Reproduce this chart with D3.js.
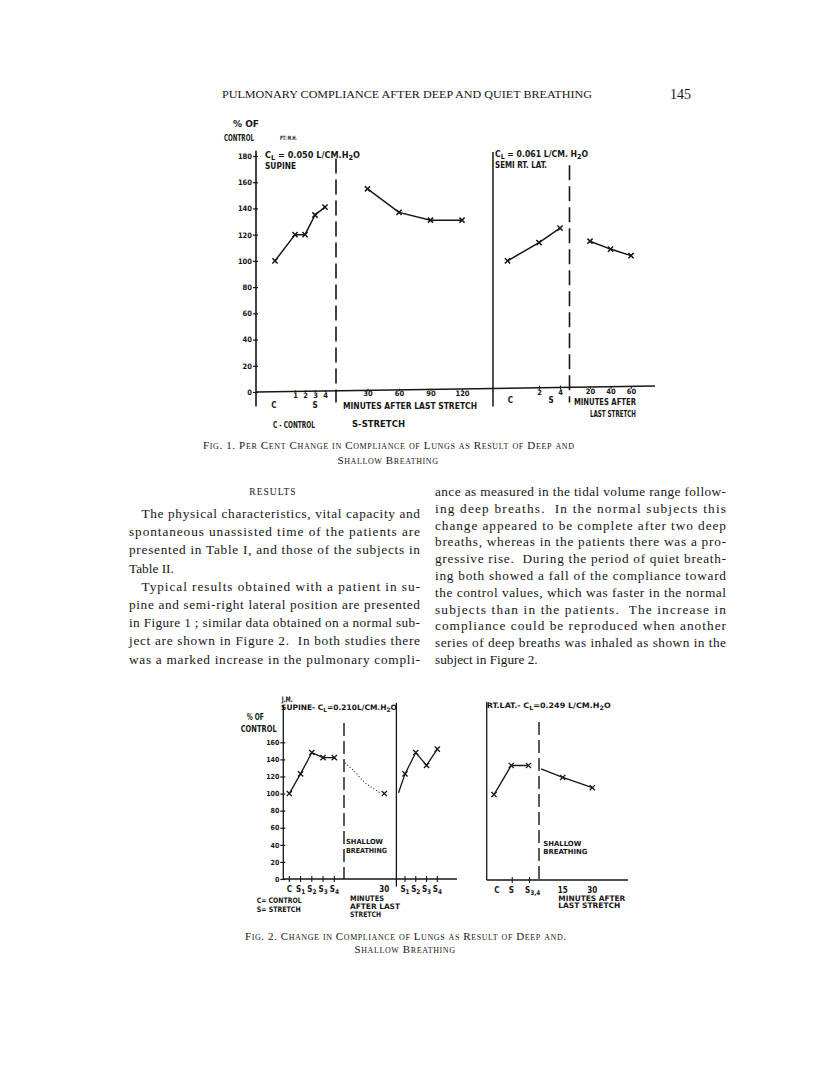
<!DOCTYPE html>
<html>
<head>
<meta charset="utf-8">
<script src="https://cdn.jsdelivr.net/npm/d3@7"></script>
<style>
  body { margin: 0; background: #fff; }
  svg text { fill: #161616; }
  .lab { font-family: "Liberation Sans Narrow", "DejaVu Sans Condensed", "Liberation Sans", sans-serif; font-weight: bold; }
  .lab2 { font-family: "DejaVu Sans Condensed", "DejaVu Sans", "Liberation Sans", sans-serif; font-weight: bold; }
  .ser { font-family: "Liberation Serif", "DejaVu Serif", serif; }
</style>
</head>
<body>
<svg id="page" width="816" height="1074"></svg>
<script>
// ---- Fig 1, patient M.H. ----
// supine: control, then stretches 1-4 (C sits one step before stretch 1)
const f1Stretch = ["C", "1", "2", "3", "4"];
const f1StretchNo = [-1, 1, 2, 3, 4];
const f1SupineStretch = [100, 120, 120, 135, 141];
const f1SupineMin = [30, 60, 90, 120];
const f1SupineAfter = [155, 137, 131, 131];
// semi right lateral
const f1LatStretch = ["C", "2", "4"];
const f1LatStretchNo = [-1, 2, 4];
const f1LatValues = [100, 114, 125];
const f1LatMin = [20, 40, 60];
const f1LatAfter = [115, 109, 104];
const f1Ticks = [0, 20, 40, 60, 80, 100, 120, 140, 160, 180];

// ---- Fig 2, subject J.M. ----
const f2Stretch = ["C", "S1", "S2", "S3", "S4"];
const f2SupineStretch = [100, 123, 148, 142, 142];
// shallow breathing, dotted fall
const f2ShallowMin = [0, 7, 14, 22, 27];
const f2ShallowVal = [136, 126, 114, 105, 100];
const f2MarkMin = [30];
const f2MarkVal = [100];
// second series of stretches
const f2Restretch = ["", "S1", "S2", "S3", "S4"];
const f2RestretchNo = [0.4, 1, 2, 3, 4];
const f2RestretchVal = [101, 123, 148, 133, 152];
// right lateral
const f2LatStretch = ["C", "S", "S3,4"];
const f2LatValues = [100, 134, 134];
const f2LatMin = [4, 15, 30];
const f2LatAfter = [130, 120, 108];
const f2Ticks = [0, 20, 40, 60, 80, 100, 120, 140, 160];

const leftLines = [
  ["The physical characteristics, vital capacity and", 1, 1],
  ["spontaneous unassisted time of the patients are", 0, 1],
  ["presented in Table I, and those of the subjects in", 0, 1],
  ["Table II.", 0, 0],
  ["Typical results obtained with a patient in su-", 1, 1],
  ["pine and semi-right lateral position are presented", 0, 1],
  ["in Figure 1 ; similar data obtained on a normal sub-", 0, 1],
  ["ject are shown in Figure 2.  In both studies there", 0, 1],
  ["was a marked increase in the pulmonary compli-", 0, 1]
];
const rightLines = [
  ["ance as measured in the tidal volume range follow-", 0, 1],
  ["ing deep breaths.  In the normal subjects this", 0, 1],
  ["change appeared to be complete after two deep", 0, 1],
  ["breaths, whereas in the patients there was a pro-", 0, 1],
  ["gressive rise.  During the period of quiet breath-", 0, 1],
  ["ing both showed a fall of the compliance toward", 0, 1],
  ["the control values, which was faster in the normal", 0, 1],
  ["subjects than in the patients.  The increase in", 0, 1],
  ["compliance could be reproduced when another", 0, 1],
  ["series of deep breaths was inhaled as shown in the", 0, 1],
  ["subject in Figure 2.", 0, 0]
];

const svg = d3.select("#page");
svg.append("rect").attr("width", 816).attr("height", 1074).attr("fill", "#fff");

// text helper, parts: strings or {sub: "x"}
function label(g, x, y, parts, o) {
  o = o || {};
  const t = g.append("text").attr("x", x).attr("y", y)
    .attr("class", o.cls || "lab").attr("font-size", o.size || 8);
  if (o.anchor) t.attr("text-anchor", o.anchor);
  parts.forEach(p => {
    if (typeof p === "string") t.append("tspan").text(p);
    else t.append("tspan").attr("baseline-shift", "-30%").attr("font-size", (o.size || 8) * 0.8).text(p.sub);
  });
  if (o.w) t.attr("textLength", o.w).attr("lengthAdjust", "spacingAndGlyphs");
  return t;
}

function crosses(g, pts, r, sw) {
  g.selectAll(null).data(pts).join("path")
    .attr("transform", d => `translate(${d[0]},${d[1]})`)
    .attr("d", `M${-r},${-r}L${r},${r}M${-r},${r}L${r},${-r}`)
    .attr("stroke", "#161616").attr("stroke-width", sw).attr("fill", "none");
}

function vline(g, x, ya, yb, sw, dash) {
  const l = g.append("line").attr("x1", x).attr("x2", x).attr("y1", ya).attr("y2", yb)
    .attr("stroke", "#161616").attr("stroke-width", sw);
  if (dash) l.attr("stroke-dasharray", dash);
}

function hline(g, y, xa, xb, sw, yb) {
  g.append("line").attr("x1", xa).attr("x2", xb).attr("y1", y).attr("y2", yb == null ? y : yb)
    .attr("stroke", "#161616").attr("stroke-width", sw);
}

function yAxis(g, y, x, ticks, size, cls) {
  g.append("g").attr("transform", `translate(${x},0)`)
    .call(d3.axisLeft(y).tickValues(ticks).tickSize(3).tickPadding(1))
    .call(a => a.select(".domain").remove())
    .call(a => a.selectAll(".tick line").attr("x1", 2).attr("x2", -3).attr("stroke", "#161616").attr("stroke-width", 1.2))
    .call(a => a.selectAll(".tick text").attr("class", cls).attr("font-size", size).attr("fill", "#161616"))
    .attr("font-family", null).attr("font-size", null);
}

function xTicks(g, sc, vals, fmt, y, size, cls, len) {
  g.append("g").attr("transform", `translate(0,${y - 1})`)
    .call(d3.axisBottom(sc).tickValues(vals).tickSize(len || 3).tickPadding(0).tickFormat(fmt))
    .call(a => a.select(".domain").remove())
    .call(a => a.selectAll(".tick line").attr("stroke", "#161616").attr("stroke-width", 1.1))
    .call(a => a.selectAll(".tick text").attr("class", cls).attr("font-size", size).attr("fill", "#161616"))
    .attr("font-family", null).attr("font-size", null);
}

// ---------- page header ----------
label(svg, 222, 98, ["PULMONARY COMPLIANCE AFTER DEEP AND QUIET BREATHING"], { cls: "ser", size: 11, w: 370 });
label(svg, 670, 99, ["145"], { cls: "ser", size: 14 });

// ---------- Fig 1 ----------
const f1 = svg.append("g");
const y1 = d3.scaleLinear().domain([0, 180]).range([392, 156]);
const s1 = d3.scaleLinear().domain([1, 4]).range([295, 325]);
const m1 = d3.scaleLinear().domain([0, 120]).range([336, 462]);
const s2 = d3.scaleLinear().domain([2, 4]).range([539, 560]);
const m2 = d3.scaleLinear().domain([0, 60]).range([569.5, 631]);
// the printed baseline rises slightly to the right
const tilt = x => y1(0) - (x - 256) * 0.015;

vline(f1, 256, y1(184), y1(-11), 1.6);
hline(f1, tilt(256), 256, 655, 1.6, tilt(655));
vline(f1, 493, y1(183), y1(-11), 1.5);
vline(f1, m1(0), y1(178), y1(-8), 1.6, "15,6");
vline(f1, m2(0), y1(173), y1(-8), 1.6, "15,6");
yAxis(f1, y1, 256, f1Ticks, 7.5, "lab");

xTicks(f1, s1, [1, 2, 3, 4], d3.format("d"), tilt(300), 7.5, "lab", 2);
xTicks(f1, m1, f1SupineMin, d3.format("d"), tilt(410), 7.5, "lab", 2);
xTicks(f1, s2, [2, 4], d3.format("d"), tilt(550) - 1, 7.5, "lab", 4);
xTicks(f1, m2, f1LatMin, d3.format("d"), tilt(610) + 1, 7.5, "lab", 2);

const line1 = d3.line();
const f1a = f1SupineStretch.map((v, i) => [s1(f1StretchNo[i]), y1(v)]);
const f1b = f1SupineAfter.map((v, i) => [m1(f1SupineMin[i]), y1(v)]);
const f1c = f1LatValues.map((v, i) => [s2(f1LatStretchNo[i]), y1(v)]);
const f1d = f1LatAfter.map((v, i) => [m2(f1LatMin[i]), y1(v)]);
[f1a, f1b, f1c, f1d].forEach(p => {
  f1.append("path").attr("d", line1(p)).attr("fill", "none").attr("stroke", "#161616").attr("stroke-width", 1.5);
  crosses(f1, p, 2.6, 1.5);
});

label(f1, 233, 127, ["% OF"], { size: 9, w: 26 });
label(f1, 224, 140.5, ["CONTROL"], { size: 9, w: 30 });
label(f1, 280, 140, ["PT: M.H."], { size: 6, w: 17 });
label(f1, 265, 158, ["C", { sub: "L" }, " = 0.050 L/CM.H", { sub: "2" }, "O"], { size: 8.5, w: 95 });
label(f1, 265, 169, ["SUPINE"], { size: 8, w: 31 });
label(f1, 495, 157, ["C", { sub: "L" }, " = 0.061 L/CM. H", { sub: "2" }, "O"], { size: 8.5, w: 93 });
label(f1, 495, 168, ["SEMI RT. LAT."], { size: 8, w: 52 });
label(f1, s1(f1StretchNo[0]) - 1, 408, [f1Stretch[0]], { size: 8, anchor: "middle" });
label(f1, s1(3), 408, ["S"], { size: 8, anchor: "middle" });
label(f1, 343, 408.5, ["MINUTES AFTER LAST STRETCH"], { size: 8.5, w: 134 });
label(f1, s2(f1LatStretchNo[0]) + 3, 403, [f1LatStretch[0]], { size: 8, anchor: "middle" });
label(f1, 551, 403, ["S"], { size: 8, anchor: "middle" });
label(f1, 574, 405, ["MINUTES AFTER"], { size: 8.5, w: 62 });
label(f1, 590, 416.5, ["LAST STRETCH"], { size: 8.5, w: 46 });
label(f1, 273, 428, ["C - CONTROL"], { size: 8, w: 42 });
label(f1, 352, 427, ["S-STRETCH"], { size: 8, w: 53 });

// caption 1
label(svg, 203, 449, ["Fig. 1.  Per Cent Change in Compliance of Lungs as Result of Deep and"], { cls: "ser", size: 11, w: 371 })
  .style("font-variant", "small-caps").attr("lengthAdjust", "spacing");
label(svg, 388, 464, ["Shallow Breathing"], { cls: "ser", size: 11, anchor: "middle" })
  .style("font-variant", "small-caps").attr("letter-spacing", 0.6);

// ---------- body text ----------
label(svg, 273, 495, ["RESULTS"], { cls: "ser", size: 9.5, anchor: "middle" }).attr("letter-spacing", 1);
function column(lines, x0, x1, y0, step) {
  lines.forEach((l, i) => {
    const x = x0 + (l[1] ? 12.5 : 0);
    const t = svg.append("text").attr("class", "ser").attr("x", x).attr("y", y0 + i * step)
      .attr("font-size", 13.3).attr("xml:space", "preserve").text(l[0]);
    if (l[2]) t.attr("textLength", x1 - x).attr("lengthAdjust", "spacing");
  });
}
column(leftLines, 129, 420, 518, 18.2);
column(rightLines, 435, 726, 496, 16.8);

// ---------- Fig 2 ----------
const f2 = svg.append("g");
const y3 = d3.scaleLinear().domain([0, 160]).range([879, 742.3]);
const s3 = d3.scalePoint().domain(f2Stretch).range([289.3, 334.3]);
const m3 = d3.scaleLinear().domain([0, 30]).range([344, 384.3]);
const r3 = d3.scaleLinear().domain([1, 4]).range([405, 437.3]);
const y4 = d3.scaleLinear().domain([0, 160]).range([880, 743.3]);
const s4 = d3.scalePoint().domain(f2LatStretch).range([494, 528.5]);
const m4 = d3.scaleLinear().domain([15, 30]).range([562.7, 592.3]);

vline(f2, 283.3, 705, y3(0), 1.3);
vline(f2, r3(0.2), 703, y3(-9), 1.3);
hline(f2, y3(0), 283.3, 457, 1.3);
vline(f2, m3(0), 723, y3(0), 1.4, "13,5");
yAxis(f2, y3, 283.3, f2Ticks, 7, "lab2");

vline(f2, 486.7, 702, y4(0), 1.3);
hline(f2, y4(0), 486.7, 628, 1.3);
vline(f2, 539, 722, y4(0), 1.4, "13,5");

// x ticks crossing the axis
function crossTicks(g, xs, y) {
  g.selectAll(null).data(xs).join("line")
    .attr("x1", d => d).attr("x2", d => d).attr("y1", y - 3).attr("y2", y + 3)
    .attr("stroke", "#161616").attr("stroke-width", 1.1);
}
crossTicks(f2, f2Stretch.map(d => s3(d)), y3(0));
crossTicks(f2, f2Restretch.slice(1).map((d, i) => r3(f2RestretchNo[i + 1])), y3(0));
crossTicks(f2, ["S", "S3,4"].map(d => s4(d) + 1), y4(0));

const f2a = f2SupineStretch.map((v, i) => [s3(f2Stretch[i]), y3(v)]);
const f2b = f2ShallowVal.map((v, i) => [m3(f2ShallowMin[i]) + 1, y3(v)]);
const f2m = f2MarkVal.map((v, i) => [m3(f2MarkMin[i]), y3(v)]);
const f2c = f2RestretchVal.map((v, i) => [r3(f2RestretchNo[i]), y3(v)]);
const f2d = f2LatValues.map((v, i) => [s4(f2LatStretch[i]), y4(v)]);
const f2e = f2LatAfter.map((v, i) => [m4(f2LatMin[i]), y4(v)]);

[f2a, f2c, f2d, f2e].forEach(p => {
  f2.append("path").attr("d", line1(p)).attr("fill", "none").attr("stroke", "#161616").attr("stroke-width", 1.3);
});
f2.append("path").attr("d", d3.line().curve(d3.curveMonotoneX)(f2b)).attr("fill", "none")
  .attr("stroke", "#161616").attr("stroke-width", 1.1).attr("stroke-dasharray", "1,2.2");
crosses(f2, f2a, 2.6, 1.3);
crosses(f2, f2m, 2.6, 1.3);
crosses(f2, f2c.slice(1), 2.6, 1.3);
crosses(f2, f2d, 2.6, 1.3);
crosses(f2, f2e.slice(1), 2.6, 1.3);

label(f2, 281.7, 701.5, ["J.M."], { cls: "lab2", size: 7.5, w: 11 });
label(f2, 281, 710, ["SUPINE- C", { sub: "L" }, "=0.210L/CM.H", { sub: "2" }, "O"], { cls: "lab2", size: 7.5, w: 116 });
label(f2, 246.7, 720, ["% OF"], { cls: "lab2", size: 8.5, w: 17 });
label(f2, 240.7, 732, ["CONTROL"], { cls: "lab2", size: 8.5, w: 36 });

// x labels, left panel
f2Stretch.forEach(d => {
  const parts = d.length > 1 ? [d[0], { sub: d.slice(1) }] : [d];
  label(f2, s3(d), 891.5, parts, { cls: "lab2", size: 8, anchor: "middle" });
});
f2Restretch.slice(1).forEach((d, i) => {
  label(f2, r3(f2RestretchNo[i + 1]), 891.5, [d[0], { sub: d.slice(1) }], { cls: "lab2", size: 8, anchor: "middle" });
});
label(f2, m3(30), 891.5, ["30"], { cls: "lab2", size: 8, anchor: "middle" });
label(f2, 256.7, 903, ["C= CONTROL"], { cls: "lab2", size: 7.5, w: 45 });
label(f2, 256.7, 911.5, ["S= STRETCH"], { cls: "lab2", size: 7.5, w: 44 });
label(f2, 350, 901, ["MINUTES"], { cls: "lab2", size: 7.5, w: 34 });
label(f2, 350, 909, ["AFTER LAST"], { cls: "lab2", size: 7.5, w: 50 });
label(f2, 350, 917, ["STRETCH"], { cls: "lab2", size: 7.5, w: 31 });
label(f2, 346, 843.5, ["SHALLOW"], { cls: "lab2", size: 7, w: 37 });
label(f2, 346, 852.5, ["BREATHING"], { cls: "lab2", size: 7, w: 41 });

// right panel
label(f2, 486.7, 707.5, ["RT.LAT.- C", { sub: "L" }, "=0.249 L/CM.H", { sub: "2" }, "O"], { cls: "lab2", size: 7.5, w: 124 });
label(f2, 543.3, 846, ["SHALLOW"], { cls: "lab2", size: 7, w: 38 });
label(f2, 543.3, 854, ["BREATHING"], { cls: "lab2", size: 7, w: 44 });
label(f2, s4("C") + 3, 893, ["C"], { cls: "lab2", size: 8, anchor: "middle" });
label(f2, s4("S"), 893, ["S"], { cls: "lab2", size: 8, anchor: "middle" });
label(f2, s4("S3,4") - 3.5, 893, ["S", { sub: "3,4" }], { cls: "lab2", size: 8 });
label(f2, m4(15), 893, ["15"], { cls: "lab2", size: 8, anchor: "middle" });
label(f2, m4(30), 893, ["30"], { cls: "lab2", size: 8, anchor: "middle" });
label(f2, 558.3, 900.5, ["MINUTES AFTER"], { cls: "lab2", size: 7.5, w: 67 });
label(f2, 558.3, 908, ["LAST STRETCH"], { cls: "lab2", size: 7.5, w: 62 });

// caption 2
label(svg, 245, 940, ["Fig. 2.  Change in Compliance of Lungs as Result of Deep and."], { cls: "ser", size: 11, w: 321 })
  .style("font-variant", "small-caps").attr("lengthAdjust", "spacing");
label(svg, 405, 953, ["Shallow Breathing"], { cls: "ser", size: 11, anchor: "middle" })
  .style("font-variant", "small-caps").attr("letter-spacing", 0.6);
</script>
</body>
</html>
